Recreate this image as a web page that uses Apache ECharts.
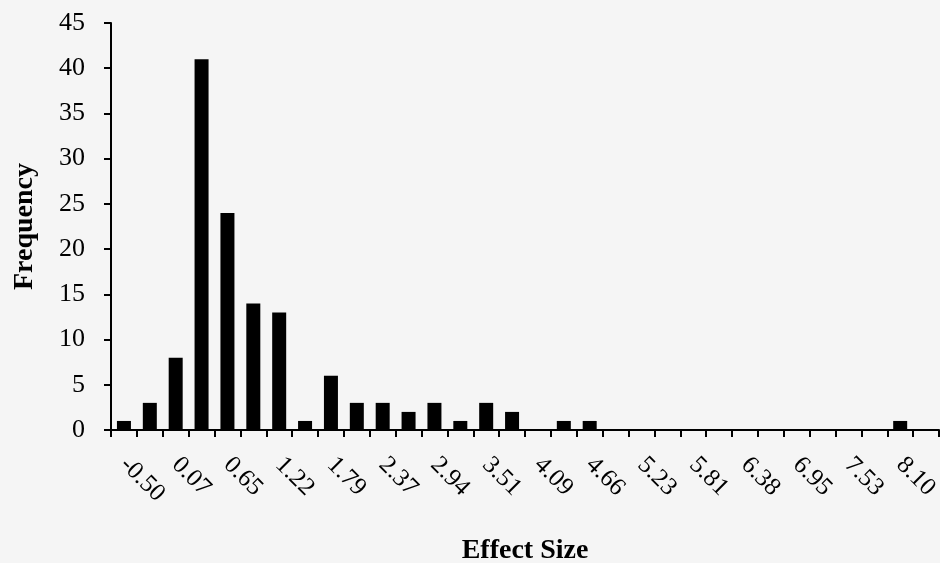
<!DOCTYPE html>
<html>
<head>
<meta charset="utf-8">
<script src="https://cdn.jsdelivr.net/npm/echarts@6/dist/echarts.min.js"></script>
<style>html,body{margin:0;padding:0;background:#f5f5f5;}#c{width:940px;height:563px;}</style>
</head>
<body>
<div id="c"></div>
<script>
const categories = ['-0.50','-0.21','0.07','0.36','0.65','0.93','1.22','1.51','1.79','2.08','2.37','2.65','2.94','3.23','3.51','3.80','4.09','4.37','4.66','4.95','5.23','5.52','5.81','6.09','6.38','6.67','6.95','7.24','7.53','7.81','8.10','More'];
const frequency = [1,3,8,41,24,14,13,1,6,3,3,2,3,1,3,2,0,1,1,0,0,0,0,0,0,0,0,0,0,0,1,0];
const yTicks = {min:0, max:45, interval:5};

const font = '"Liberation Serif", "DejaVu Serif", serif';
const chart = echarts.init(document.getElementById('c'));
chart.setOption({
  backgroundColor: '#f5f5f5',
  animation: false,
  grid: {left: 111, right: 1, top: 23, bottom: 133, containLabel: false, outerBoundsMode: 'none'},
  xAxis: {
    type: 'category',
    data: categories,
    boundaryGap: true,
    name: 'Effect Size',
    nameLocation: 'middle',
    nameGap: 107,
    nameTextStyle: {fontFamily: font, fontWeight: 'bold', fontSize: 28, color: '#000'},
    axisLine: {lineStyle: {color: '#000', width: 2}},
    axisTick: {show: true, interval: 0, length: 7, lineStyle: {color: '#000', width: 2}},
    axisLabel: {interval: 1, rotate: -45, margin: 31, fontFamily: font, fontSize: 25, color: '#000'}
  },
  yAxis: {
    type: 'value',
    min: yTicks.min, max: yTicks.max, interval: yTicks.interval,
    name: 'Frequency',
    nameLocation: 'middle',
    nameRotate: 90,
    nameGap: 72,
    nameTextStyle: {fontFamily: font, fontWeight: 'bold', fontSize: 28, color: '#000'},
    splitLine: {show: false},
    axisLine: {show: true, lineStyle: {color: '#000', width: 2}},
    axisTick: {show: true, length: 7, lineStyle: {color: '#000', width: 2}},
    axisLabel: {margin: 26, fontFamily: font, fontSize: 26, color: '#000'}
  },
  series: [{
    type: 'bar',
    data: frequency,
    barWidth: 14,
    itemStyle: {color: '#000'}
  }]
});
</script>
</body>
</html>
